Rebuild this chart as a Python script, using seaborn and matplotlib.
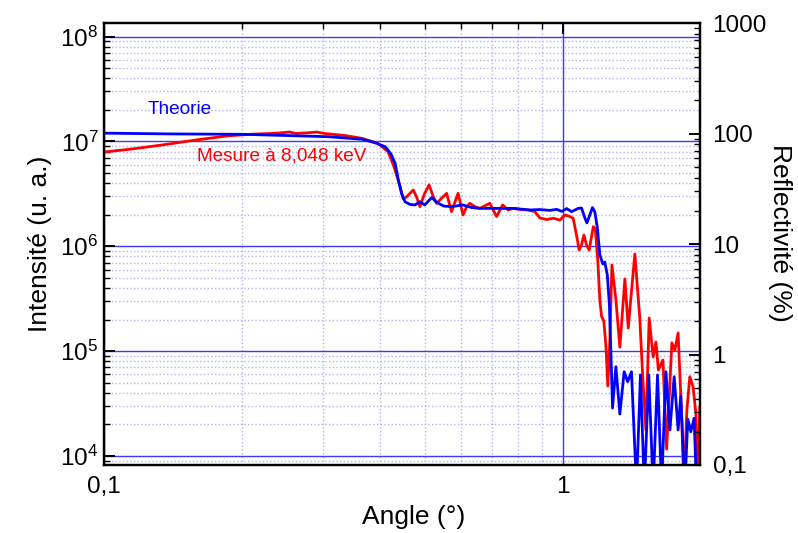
import numpy as np
import matplotlib.pyplot as plt
import matplotlib.ticker as mticker
import seaborn as sns
import pandas as pd

#   Theorie curve (angle in degrees, intensity in u. a.)
theo_angle = [0.100, 0.139, 0.200, 0.308, 0.365, 0.389, 0.410, 0.422, 0.431, 0.438,
              0.445, 0.453, 0.464, 0.476, 0.488, 0.500, 0.518, 0.531, 0.550, 0.573,
              0.605, 0.633, 0.659, 0.718, 0.778, 0.847, 0.891, 0.937, 0.970, 0.995,
              1.019, 1.045, 1.080, 1.098, 1.117, 1.128, 1.145, 1.160, 1.174, 1.189,
              1.204, 1.222, 1.234, 1.250, 1.263, 1.272, 1.283, 1.305, 1.331, 1.360,
              1.384, 1.411, 1.447, 1.476, 1.505, 1.539, 1.573, 1.608, 1.641, 1.677,
              1.711, 1.748, 1.783, 1.807, 1.844, 1.872, 1.900, 1.932, 1.956]
theo_int = [1.20e7, 1.18e7, 1.17e7, 1.11e7, 1.05e7, 9.74e6, 8.92e6, 7.60e6, 6.19e6, 4.29e6,
            3.20e6, 2.66e6, 2.51e6, 2.48e6, 2.66e6, 2.48e6, 2.92e6, 2.62e6, 2.42e6, 2.39e6,
            2.48e6, 2.34e6, 2.30e6, 2.30e6, 2.30e6, 2.22e6, 2.24e6, 2.20e6, 2.25e6, 2.15e6,
            2.29e6, 2.14e6, 2.30e6, 2.32e6, 1.86e6, 1.67e6, 1.99e6, 2.34e6, 2.13e6, 1.50e6,
            8.26e5, 6.78e5, 7.08e5, 5.32e5, 2.75e5, 1.02e5, 2.86e4, 7.10e4, 2.51e4, 6.36e4,
            5.11e4, 6.36e4, 5.0e3, 5.92e4, 5.0e3, 5.92e4, 5.0e3, 5.92e4, 5.0e3, 6.36e4,
            1.77e4, 5.70e4, 1.77e4, 3.73e4, 5.0e3, 2.25e4, 1.70e4, 2.29e4, 5.0e3]

#   Mesure a 8,048 keV
mes_angle = [0.100, 0.113, 0.134, 0.158, 0.186, 0.208, 0.230, 0.244, 0.254, 0.262,
             0.278, 0.291, 0.303, 0.335, 0.365, 0.395, 0.416, 0.428, 0.442, 0.449,
             0.456, 0.472, 0.480, 0.488, 0.500, 0.511, 0.522, 0.531, 0.544, 0.558,
             0.572, 0.591, 0.606, 0.617, 0.627, 0.643, 0.659, 0.693, 0.717, 0.739,
             0.760, 0.779, 0.806, 0.840, 0.869, 0.891, 0.922, 0.953, 0.985, 1.010,
             1.036, 1.053, 1.062, 1.074, 1.085, 1.098, 1.111, 1.126, 1.141, 1.165,
             1.177, 1.192, 1.204, 1.214, 1.228, 1.241, 1.253, 1.266, 1.279, 1.305,
             1.331, 1.365, 1.388, 1.435, 1.471, 1.494, 1.517, 1.542, 1.573, 1.595,
             1.615, 1.652, 1.683, 1.728, 1.754, 1.783, 1.814, 1.835, 1.863, 1.891,
             1.922, 1.949, 1.966, 1.988]
mes_int = [7.94e6, 8.39e6, 9.26e6, 1.03e7, 1.13e7, 1.17e7, 1.19e7, 1.21e7, 1.23e7, 1.19e7,
           1.21e7, 1.23e7, 1.19e7, 1.14e7, 1.07e7, 9.61e6, 7.99e6, 5.84e6, 3.70e6, 2.83e6,
           2.95e6, 3.44e6, 2.95e6, 2.39e6, 3.20e6, 3.85e6, 2.97e6, 2.57e6, 2.87e6, 3.20e6,
           2.14e6, 3.20e6, 1.99e6, 2.39e6, 2.57e6, 2.39e6, 2.30e6, 2.57e6, 1.92e6, 2.48e6,
           2.22e6, 2.30e6, 2.25e6, 2.22e6, 2.14e6, 1.86e6, 1.80e6, 1.85e6, 1.78e6, 1.99e6,
           1.92e6, 1.85e6, 1.54e6, 1.19e6, 9.22e5, 1.03e6, 1.28e6, 1.03e6, 9.22e5, 1.54e6,
           1.46e6, 7.08e5, 3.07e5, 2.16e5, 1.94e5, 1.14e5, 4.65e4, 1.28e5, 6.63e5, 3.07e5,
           1.09e5, 4.88e5, 1.66e5, 8.44e5, 2.07e5, 5.30e4, 1.77e4, 2.07e5, 8.78e4, 1.22e5,
           6.60e4, 8.22e4, 1.16e4, 1.20e5, 1.02e5, 1.49e5, 2.57e4, 5.0e3, 2.74e4, 5.70e4,
           4.54e4, 2.57e4, 5.0e3, 2.93e4]

theo = pd.DataFrame({"angle": theo_angle, "intensite": theo_int})
mes = pd.DataFrame({"angle": mes_angle, "intensite": mes_int})

sns.set_style("white")
plt.rcParams["font.family"] = ["Liberation Sans", "DejaVu Sans"]
plt.rcParams["mathtext.default"] = "regular"
plt.rcParams["text.color"] = "black"
plt.rcParams["axes.labelcolor"] = "black"
plt.rcParams["xtick.color"] = "black"
plt.rcParams["ytick.color"] = "black"

fig = plt.figure(figsize=(7.98, 5.33), dpi=100)
ax = fig.add_axes([0.1303, 0.1276, 0.7469, 0.8287])

sns.lineplot(data=mes, x="angle", y="intensite", ax=ax, color="#ff0000",
             linewidth=2.0, estimator=None, sort=False, solid_joinstyle="round")
sns.lineplot(data=theo, x="angle", y="intensite", ax=ax, color="#0000ff",
             linewidth=2.0, estimator=None, sort=False, solid_joinstyle="round")

ax.set_xscale("log")
ax.set_yscale("log")
ax.set_xlim(0.1, 1.99)
ax.set_ylim(8.2e3, 1.34e8)

#   grid
ax.set_axisbelow(True)
ax.grid(which="major", color="#3a3aff", linestyle="-", linewidth=1.0)
ax.grid(which="minor", color="#b4b4f0", linestyle=":", linewidth=1.0)

ax.xaxis.set_major_locator(mticker.FixedLocator([0.1, 1]))
ax.xaxis.set_major_formatter(mticker.FixedFormatter(["0,1", "1"]))
ax.xaxis.set_minor_locator(mticker.LogLocator(base=10, subs=np.arange(2, 10)))
ax.xaxis.set_minor_formatter(mticker.NullFormatter())
ax.yaxis.set_major_locator(mticker.LogLocator(base=10, numticks=10))
ax.yaxis.set_major_formatter(mticker.LogFormatterMathtext())
ax.yaxis.set_minor_locator(mticker.LogLocator(base=10, subs=np.arange(2, 10), numticks=20))
ax.yaxis.set_minor_formatter(mticker.NullFormatter())

ax.tick_params(which="both", direction="in", top=True, right=False,
               labelsize=17.5, colors="black")
ax.tick_params(which="major", length=8, width=1.4)
ax.tick_params(which="minor", length=4, width=1.0)
ax.tick_params(axis="x", which="major", pad=8)
ax.tick_params(axis="y", which="major", pad=4)

ax.set_xlabel("Angle (°)", fontsize=19)
ax.set_ylabel("Intensité (u. a.)", fontsize=19)
ax.xaxis.set_label_coords(0.52, -0.09)
ax.yaxis.set_label_coords(-0.088, 0.5)

for s in ax.spines.values():
    s.set_color("black")
    s.set_linewidth(1.6)

#   right axis : reflectivite
ax2 = ax.twinx()
ax2.set_yscale("log")
ax2.set_ylim(0.1, 1000)
ax2.yaxis.set_major_locator(mticker.FixedLocator([0.1, 1, 10, 100, 1000]))
ax2.yaxis.set_major_formatter(mticker.FixedFormatter(["0,1", "1", "10", "100", "1000"]))
ax2.yaxis.set_minor_locator(mticker.LogLocator(base=10, subs=np.arange(2, 10), numticks=20))
ax2.yaxis.set_minor_formatter(mticker.NullFormatter())
ax2.tick_params(which="both", direction="in", labelsize=17.5, colors="black")
ax2.tick_params(which="major", length=8, width=1.4, pad=9)
ax2.tick_params(which="minor", length=4, width=1.0)
ax2.set_ylabel("Reflectivité (%)", fontsize=19, rotation=270)
ax2.yaxis.set_label_coords(1.155, 0.525)
for s in ax2.spines.values():
    s.set_linewidth(1.6)
    s.set_color("black")

ax.text(0.074, 0.804, "Theorie", color="#0000ff", fontsize=13.7,
        transform=ax.transAxes, va="center", ha="left")
ax.text(0.156, 0.70, "Mesure à 8,048 keV", color="#ff0000", fontsize=13.7,
        transform=ax.transAxes, va="center", ha="left")

plt.savefig("out.png", dpi=100)
